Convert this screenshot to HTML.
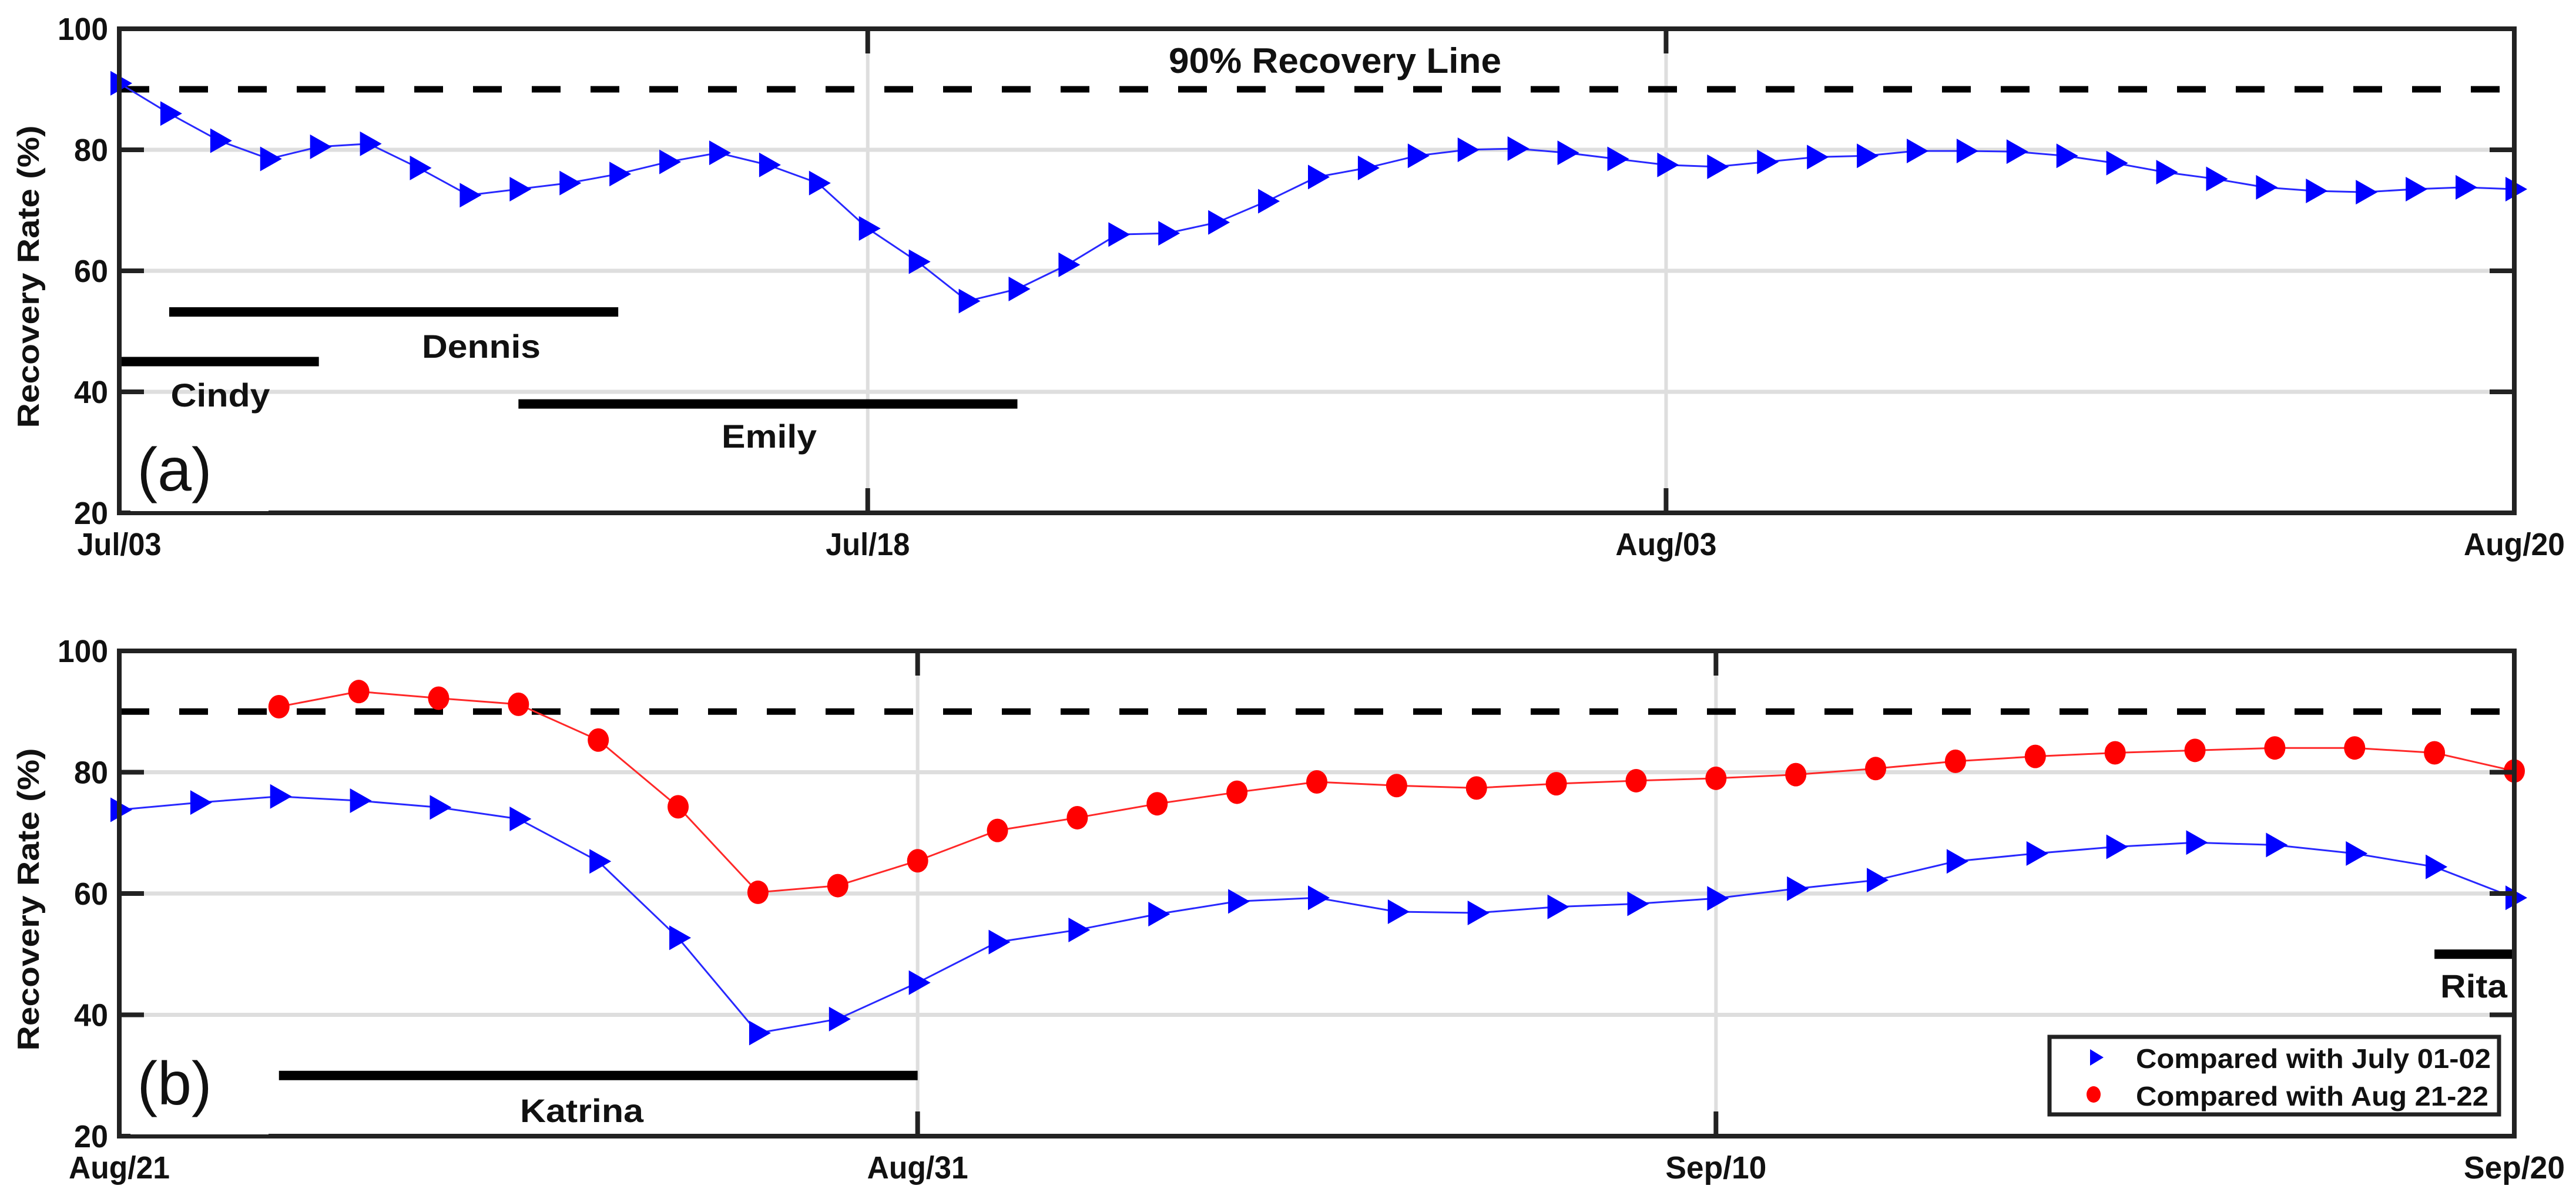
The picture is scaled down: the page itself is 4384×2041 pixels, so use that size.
<!DOCTYPE html>
<html><head><meta charset="utf-8"><style>
html,body{margin:0;padding:0;background:#fff;}
svg{display:block;}
text{font-family:"Liberation Sans",Arial,sans-serif;font-weight:bold;fill:#111;}
</style></head><body>
<svg id="chart" width="4384" height="2041" viewBox="0 0 4384 2041" xmlns="http://www.w3.org/2000/svg">
</svg>
<script>
// Panel (a): Jul 03 .. Aug 20 (day index 0..48)
const aValues = [91,86,81.5,78.5,80.5,81,77,72.5,73.5,74.5,76,78,79.5,77.5,74.5,67,61.5,55,57,61,66,66.2,68,71.5,75.5,77,79,80,80.2,79.5,78.5,77.5,77.2,78,78.8,79,79.8,79.8,79.7,79,77.8,76.3,75.2,73.8,73.2,73,73.5,73.8,73.5];
const aTickDays = [0,15,31,48];
const aTickLabels = ["Jul/03","Jul/18","Aug/03","Aug/20"];
// Panel (b): Aug 21 .. Sep 20 (day index 0..30)
const bBlue = [73.8,75,76,75.3,74.2,72.3,65.3,52.7,37,39.3,45.3,52,54,56.6,58.7,59.3,57,56.8,57.8,58.3,59.2,60.8,62.2,65.3,66.6,67.7,68.4,68,66.6,64.4,59.3];
const bRedStart = 2;
const bRed = [90.8,93.3,92.2,91.2,85.3,74.3,60.2,61.3,65.4,70.4,72.5,74.8,76.7,78.4,77.8,77.4,78.1,78.6,79,79.6,80.6,81.8,82.6,83.2,83.6,84,84,83.2,80.2];
const bTickDays = [0,10,20,30];
const bTickLabels = ["Aug/21","Aug/31","Sep/10","Sep/20"];
const yTicks = [20,40,60,80,100];
const recoveryLine = 90;
// Storm periods: [name, startDay, endDay, level]
const aStorms = [["Cindy",0,4,45],["Dennis",1,10,53.2],["Emily",8,18,38]];
const bStorms = [["Katrina",2,10,30],["Rita",29,30,50]];

const NS="http://www.w3.org/2000/svg";
const svg=document.getElementById('chart');
function el(tag,attrs,parent){const e=document.createElementNS(NS,tag);for(const k in attrs)e.setAttribute(k,attrs[k]);(parent||svg).appendChild(e);return e;}

function panel(cfg){
  const g=el('g',{});
  
  
  const L=203,R=4279,T=cfg.top,B=cfg.bottom;
  const xs=d=>L+(R-L)*d/cfg.days;
  const ys=v=>B-(B-T)*(v-20)/80;
  [40,60,80].forEach(v=>{
    const l=el('line',{x1:L,x2:R,y1:ys(v),y2:ys(v),stroke:'#dedede','stroke-width':7},g);
    
    
  });
  cfg.tickDays.forEach((d,i)=>{
    if(i>0&&i<cfg.tickDays.length-1){
      const l=el('line',{x1:xs(d),x2:xs(d),y1:T,y2:B,stroke:'#dedede','stroke-width':6},g);
      
      
    }
  });
  const dl=el('line',{x1:L+2,x2:R-10,y1:ys(recoveryLine),y2:ys(recoveryLine),stroke:'#000','stroke-width':11,'stroke-dasharray':'49 51'},g);
  
  
  cfg.storms.forEach(s=>{
    const b=el('line',{x1:xs(s[1]),x2:xs(s[2]),y1:ys(s[3]),y2:ys(s[3]),stroke:'#000','stroke-width':16},g);
    
    
  });
  cfg.labels.forEach(t=>{
    const tx=el('text',{x:t.x,y:t.y,'font-size':t.fs||56,'text-anchor':'middle',textLength:t.w,lengthAdjust:'spacingAndGlyphs'},g);
    tx.textContent=t.t;
    
    
  });
  cfg.series.forEach(s=>{
    const pts=s.values.map((v,i)=>[xs(i+s.start),ys(v)]);
    const pl=el('polyline',{points:pts.map(p=>p.join(',')).join(' '),fill:'none',stroke:s.color,'stroke-width':3},g);
    
    
    pts.forEach(p=>{
      let m;
      if(s.marker==='tri'){
        m=el('polygon',{points:`${p[0]-15},${p[1]-21} ${p[0]+22},${p[1]} ${p[0]-15},${p[1]+21}`,fill:'#0000ff'},g);
      } else {
        m=el('ellipse',{cx:p[0],cy:p[1],rx:18,ry:20,fill:'#ff0000'},g);
      }
      
      
    });
  });
  const fr=el('rect',{x:L,y:T,width:R-L,height:B-T,fill:'none',stroke:'#222','stroke-width':8},g);
  
  
  [40,60,80].forEach(v=>{
    el('line',{x1:L,x2:L+42,y1:ys(v),y2:ys(v),stroke:'#222','stroke-width':8},g);
    el('line',{x1:R-42,x2:R,y1:ys(v),y2:ys(v),stroke:'#222','stroke-width':8},g);
  });
  yTicks.forEach(v=>{
    const t=el('text',{x:184,y:ys(v)+19,'font-size':54,'text-anchor':'end',textLength:v===100?86:58,lengthAdjust:'spacingAndGlyphs'},g);
    t.textContent=String(v);
    
    
  });
  cfg.tickDays.forEach((d,i)=>{
    if(i>0&&i<cfg.tickDays.length-1){
      el('line',{x1:xs(d),x2:xs(d),y1:T,y2:T+42,stroke:'#222','stroke-width':8},g);
      el('line',{x1:xs(d),x2:xs(d),y1:B-42,y2:B,stroke:'#222','stroke-width':8},g);
    }
    const lab=cfg.tickLabels[i];
    const t=el('text',{x:xs(d),y:B+72,'font-size':54,'text-anchor':'middle',textLength:lab.startsWith('Jul')?143:172,lengthAdjust:'spacingAndGlyphs'},g);
    t.textContent=lab;
    
    
  });
  el('rect',{x:222,y:B-8,width:235,height:5,fill:'#fff'},g);
  const pt=el('text',{x:297,y:cfg.tagY,'font-size':104,'text-anchor':'middle',style:'font-weight:normal'},g);
  pt.textContent=cfg.tag;
  
  
  const yc=(T+B)/2+10;
  const yt=el('text',{x:0,y:0,'font-size':52,'text-anchor':'middle',transform:`translate(66,${yc}) rotate(-90)`,textLength:515,lengthAdjust:'spacingAndGlyphs'},g);
  yt.textContent='Recovery Rate (%)';
  
  
  return {xs,ys};
}

panel({name:'panel-a',top:49,bottom:873,days:48,tickDays:aTickDays,tickLabels:aTickLabels,storms:aStorms,tag:'(a)',tagY:835,
  labels:[{t:'90% Recovery Line',x:2272,y:124,fs:60,w:566,n:'recovery-line-label'},
          {t:'Cindy',x:375,y:692,w:169,n:'storm-label-cindy'},
          {t:'Dennis',x:819,y:609,w:202,n:'storm-label-dennis'},
          {t:'Emily',x:1309,y:762,w:162,n:'storm-label-emily'}],
  series:[{name:'july-baseline',values:aValues,start:0,color:'#2828ff',marker:'tri'}]});

panel({name:'panel-b',top:1108,bottom:1934,days:30,tickDays:bTickDays,tickLabels:bTickLabels,storms:bStorms,tag:'(b)',tagY:1880,
  labels:[{t:'Katrina',x:990,y:1910,w:210,n:'storm-label-katrina'},
          {t:'Rita',x:4210,y:1698,w:114,n:'storm-label-rita'}],
  series:[{name:'july-baseline',values:bBlue,start:0,color:'#2828ff',marker:'tri'},
          {name:'aug-baseline',values:bRed,start:bRedStart,color:'#ff2828',marker:'circ'}]});

const lg=el('g',{});


el('rect',{x:3488,y:1765,width:765,height:132,fill:'#fff',stroke:'#222','stroke-width':7},lg);
const m1=el('polygon',{points:'3557,1786 3580,1800 3557,1814',fill:'#0000ff'},lg);


const t1=el('text',{x:3635,y:1818,'font-size':46,textLength:604,lengthAdjust:'spacingAndGlyphs'},lg);
t1.textContent='Compared with July 01-02';


const m2=el('ellipse',{cx:3563,cy:1863,rx:12,ry:14,fill:'#ff0000'},lg);


const t2=el('text',{x:3635,y:1882,'font-size':46,textLength:600,lengthAdjust:'spacingAndGlyphs'},lg);
t2.textContent='Compared with Aug 21-22';


</script>
</body></html>
